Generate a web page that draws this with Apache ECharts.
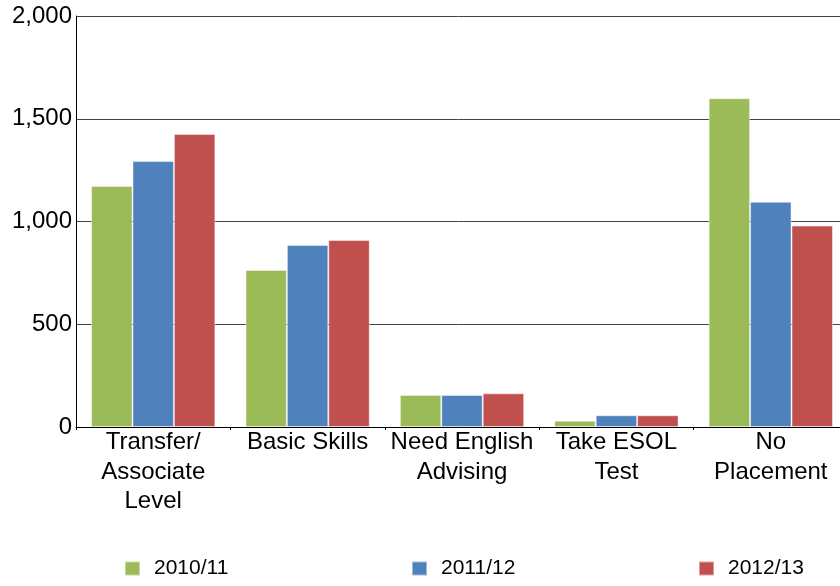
<!DOCTYPE html>
<html>
<head>
<meta charset="utf-8">
<script src="https://cdn.jsdelivr.net/npm/echarts@6/dist/echarts.min.js"></script>
<style>
  html, body { margin: 0; padding: 0; background: #fff; }
  #chart { width: 840px; height: 586px; }
</style>
</head>
<body>
<div id="chart"></div>
<script>
  // categories and series values
  var categories = ['Transfer/\nAssociate\nLevel', 'Basic Skills', 'Need English\nAdvising', 'Take ESOL\nTest', 'No\nPlacement'];
  var seriesNames = ['2010/11', '2011/12', '2012/13'];
  var values2010 = [1173, 764, 156, 31, 1600];
  var values2011 = [1294, 886, 156, 57, 1096];
  var values2012 = [1426, 910, 164, 57, 980];
  var colors = ['#9BBB59', '#4F81BD', '#C0504D'];
  var legendLefts = [124, 411, 698];

  var chart = echarts.init(document.getElementById('chart'));
  var font = 'Liberation Sans, Arial, sans-serif';

  function fnLegend(name, i) {
    return {
      data: [name],
      left: legendLefts[i],
      top: 558,
      padding: 0,
      icon: 'rect',
      itemWidth: 15,
      itemHeight: 14,
      selectedMode: false,
      textStyle: {
        fontFamily: font,
        fontSize: 21,
        color: '#000',
        padding: [13, 0, 0, 9]
      }
    };
  }

  function fnBar(name, data, i) {
    return {
      name: name,
      type: 'bar',
      data: data,
      barGap: '0%',
      barCategoryGap: '19.5%',
      itemStyle: {
        color: colors[i],
        borderColor: 'rgba(255,255,255,0.45)',
        borderWidth: 1
      }
    };
  }

  chart.setOption({
    animation: false,
    color: colors,
    legend: seriesNames.map(fnLegend),
    grid: {
      left: 76,
      top: 16,
      bottom: 159,
      width: 772,
      containLabel: false,
      outerBoundsMode: 'none'
    },
    xAxis: {
      type: 'category',
      data: categories,
      axisLine: { lineStyle: { color: '#000', width: 1 } },
      axisTick: { show: true, length: 3, lineStyle: { color: '#000' } },
      axisLabel: {
        color: '#000',
        fontFamily: font,
        fontSize: 24,
        lineHeight: 29.5,
        margin: 1,
        interval: 0
      }
    },
    yAxis: {
      type: 'value',
      min: 0,
      max: 2000,
      interval: 500,
      axisLine: { show: true, lineStyle: { color: '#000', width: 1 } },
      axisTick: { show: false },
      splitLine: { lineStyle: { color: '#444', width: 1 } },
      axisLabel: {
        color: '#000',
        fontFamily: font,
        fontSize: 24,
        margin: 4,
        formatter: function(v) {
          return v.toLocaleString('en-US');
        }
      }
    },
    series: [
      fnBar(seriesNames[0], values2010, 0),
      fnBar(seriesNames[1], values2011, 1),
      fnBar(seriesNames[2], values2012, 2)
    ]
  });
</script>
</body>
</html>
